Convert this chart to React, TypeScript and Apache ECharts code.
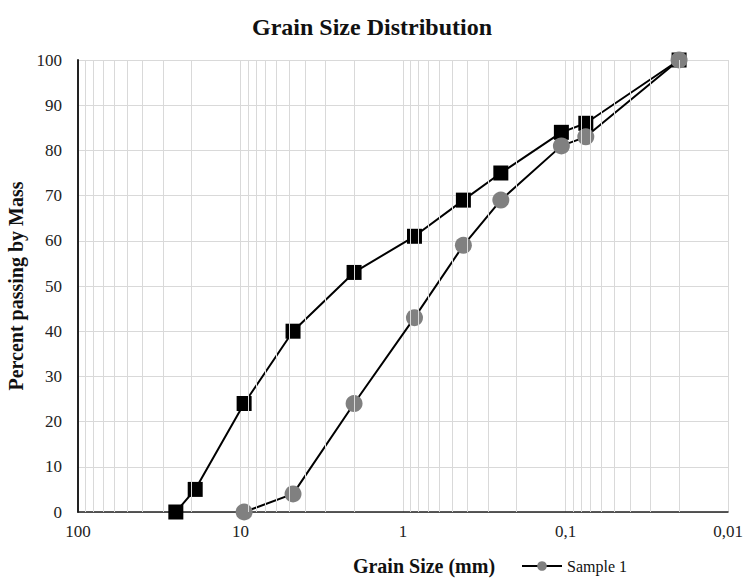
import React, { useEffect, useRef } from "react";
import * as echarts from "echarts";

const grainSizeSample1 = [9.5, 4.75, 2, 0.85, 0.425, 0.25, 0.106, 0.075, 0.02];
const passingSample1 = [0, 4, 24, 43, 59, 69, 81, 83, 100];
const grainSizeSample2 = [25, 19, 9.5, 4.75, 2, 0.85, 0.425, 0.25, 0.106, 0.075, 0.02];
const passingSample2 = [0, 5, 24, 40, 53, 61, 69, 75, 84, 86, 100];
const minorGridValues = [
  20, 30, 40, 50, 60, 70, 80, 90,
  2, 3, 4, 5, 6, 7, 8, 9,
  0.2, 0.3, 0.4, 0.5, 0.6, 0.7, 0.8, 0.9,
  0.02, 0.03, 0.04, 0.05, 0.06, 0.07, 0.08, 0.09,
];

const FONT = "'Liberation Serif', 'DejaVu Serif', serif";

export default function App() {
  const ref = useRef<HTMLDivElement>(null);
  useEffect(() => {
    if (!ref.current) return;
    const chart = echarts.init(ref.current, null, { renderer: "svg" });
    const zip = (xs: number[], ys: number[]) => xs.map((x, i) => [x, ys[i]]);
    chart.setOption({
      animation: false,
      title: {
        text: "Grain Size Distribution",
        left: "center",
        top: 10,
        textStyle: { fontFamily: FONT, fontSize: 24, fontWeight: "bold", color: "#111" },
      },
      legend: {
        data: ["Sample 1"],
        left: 516,
        top: 553,
        itemWidth: 40,
        itemHeight: 12,
        itemGap: 4,
        textStyle: { fontFamily: FONT, fontSize: 16, color: "#111" },
      },
      grid: { left: 78, right: 16, top: 60, bottom: 66, outerBoundsMode: "none", containLabel: false },
      xAxis: {
        type: "log",
        logBase: 10,
        min: 0.01,
        max: 100,
        inverse: true,
        name: "Grain Size (mm)",
        nameLocation: "middle",
        nameGap: 44,
        nameTextStyle: { fontFamily: FONT, fontSize: 20, fontWeight: "bold", color: "#111", padding: [0, 0, 0, 42] },
        axisLine: { show: true, onZero: false, lineStyle: { color: "#222", width: 1.5 } },
        axisTick: { show: false },
        axisLabel: {
          fontFamily: FONT,
          fontSize: 17,
          color: "#222",
          margin: 11,
          formatter: (v: number) => String(v).replace(".", ","),
        },
        splitLine: { show: true, lineStyle: { color: "#d9d9d9", width: 1 } },
      },
      yAxis: {
        type: "value",
        min: 0,
        max: 100,
        interval: 10,
        name: "Percent passing by Mass",
        nameLocation: "middle",
        nameGap: 44,
        nameTextStyle: { fontFamily: FONT, fontSize: 20, fontWeight: "bold", color: "#111" },
        axisLine: { show: true, lineStyle: { color: "#222", width: 2 } },
        axisTick: { show: false },
        axisLabel: { fontFamily: FONT, fontSize: 17, color: "#222", margin: 16 },
        splitLine: { show: true, lineStyle: { color: "#d9d9d9", width: 1 } },
      },
      series: [
        {
          name: "grid",
          type: "line",
          data: [],
          z: 0,
          silent: true,
          markLine: {
            silent: true,
            symbol: ["none", "none"],
            label: { show: false },
            emphasis: { disabled: true },
            lineStyle: { color: "#d9d9d9", type: "solid", width: 1 },
            data: minorGridValues.map((v) => ({ xAxis: v })),
          },
        },
        {
          name: "Sample 2",
          type: "line",
          data: zip(grainSizeSample2, passingSample2),
          symbol: "rect",
          symbolSize: 15,
          lineStyle: { color: "#000", width: 2 },
          itemStyle: { color: "#000" },
          z: 3,
        },
        {
          name: "Sample 1",
          type: "line",
          data: zip(grainSizeSample1, passingSample1),
          symbol: "circle",
          symbolSize: 17,
          lineStyle: { color: "#000", width: 2 },
          itemStyle: { color: "#808080" },
          z: 4,
        },
      ],
    });
    return () => chart.dispose();
  }, []);
  return <div ref={ref} style={{ width: 744, height: 578, position: "absolute", left: 0, top: 0 }} />;
}
